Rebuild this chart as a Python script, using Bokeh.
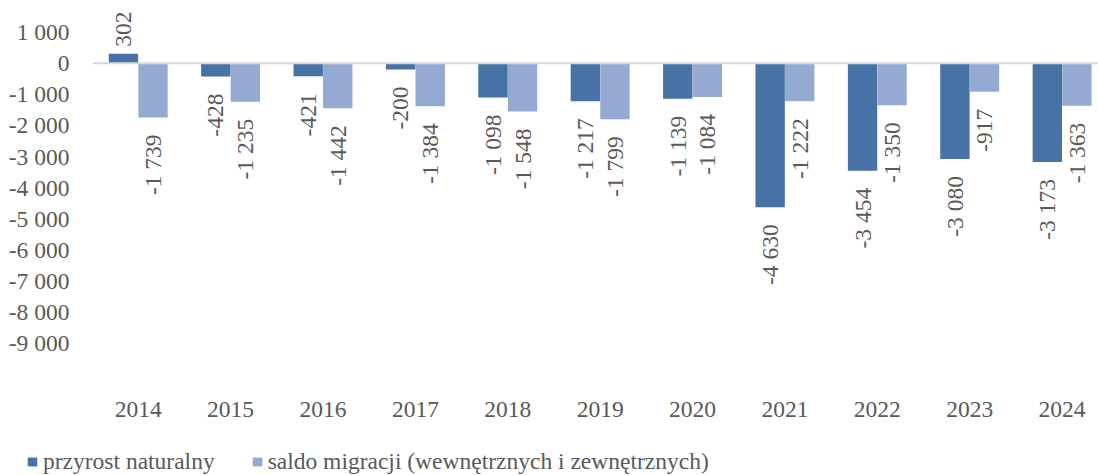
from bokeh.plotting import figure
from bokeh.models import ColumnDataSource, Range1d, FixedTicker, Span, Legend, LegendItem
from bokeh.layouts import column
from bokeh.embed import file_html
from bokeh.resources import INLINE
from bokeh.core.properties import value
import math

years = ["2014", "2015", "2016", "2017", "2018", "2019", "2020", "2021", "2022", "2023", "2024"]
przyrost = [302, -428, -421, -200, -1098, -1217, -1139, -4630, -3454, -3080, -3173]
saldo = [-1739, -1235, -1442, -1384, -1548, -1799, -1084, -1222, -1350, -917, -1363]
y_ticks = [1000, 0, -1000, -2000, -3000, -4000, -5000, -6000, -7000, -8000, -9000]
series_names = ["przyrost naturalny", "saldo migracji (wewnętrznych i zewnętrznych)"]

DARK = "#4672A6"
LIGHT = "#95AAD2"
TXT = "#595959"
FONT = "Liberation Serif"
FS = "23.5px"


def fmt(v):
    return f"{v:,}".replace(",", " ")


idx = list(range(len(years)))
off = 0.16
bw = 0.318

src1 = ColumnDataSource(dict(
    x=[i - off for i in idx], top=przyrost,
    lab=[fmt(v) for v in przyrost],
    align=["left" if v >= 0 else "right" for v in przyrost],
    yo=[-7 if v >= 0 else 17 for v in przyrost],
))
src2 = ColumnDataSource(dict(
    x=[i + off for i in idx], top=saldo,
    lab=[fmt(v) for v in saldo],
    align=["left" if v >= 0 else "right" for v in saldo],
    yo=[-7 if v >= 0 else 17 for v in saldo],
))

p = figure(width=1098, height=440, output_backend="svg", toolbar_location=None,
           x_range=Range1d(-0.495, 10.394), y_range=Range1d(-10000, 2016),
           min_border_left=92, min_border_right=0, min_border_top=0, min_border_bottom=66)
p.outline_line_color = None
p.grid.visible = False
p.background_fill_color = "white"
p.border_fill_color = "white"

p.vbar(x="x", top="top", bottom=0, width=bw, source=src1, fill_color=DARK, line_color=None)
p.vbar(x="x", top="top", bottom=0, width=bw, source=src2, fill_color=LIGHT, line_color=None)

p.add_layout(Span(location=0, dimension="width", line_color="#D9D9D9", line_width=2))

for s in (src1, src2):
    p.text(x="x", y="top", text="lab", source=s, angle=math.pi / 2,
           text_align="align", y_offset="yo", text_baseline="middle",
           text_font=value(FONT), text_font_size=FS, text_color=TXT)

p.yaxis.ticker = FixedTicker(ticks=y_ticks)
p.yaxis.major_label_overrides = {t: fmt(t) for t in y_ticks}
p.xaxis.ticker = FixedTicker(ticks=idx)
p.xaxis.major_label_overrides = {i: y for i, y in enumerate(years)}
for ax in (p.xaxis[0], p.yaxis[0]):
    ax.axis_line_color = None
    ax.major_tick_line_color = None
    ax.minor_tick_line_color = None
    ax.major_label_text_font = FONT
    ax.major_label_text_font_size = FS
    ax.major_label_text_color = TXT
p.yaxis.major_label_standoff = 17
p.xaxis.major_label_standoff = 21

# legend strip below the chart (its frame spans the full width; the bars lie outside its ranges)
pl = figure(width=1098, height=35, output_backend="svg", toolbar_location=None,
            x_range=Range1d(100, 101), y_range=Range1d(5000, 5001),
            x_axis_type=None, y_axis_type=None,
            min_border_left=0, min_border_right=0, min_border_top=0, min_border_bottom=0)
pl.outline_line_color = None
pl.grid.visible = False
pl.background_fill_color = "white"
pl.border_fill_color = "white"
try:
    pl.frame_align = False
    p.frame_align = False
except Exception:
    pass
lr1 = pl.vbar(x="x", top="top", bottom=0, width=bw, source=src1, fill_color=DARK, line_color=None)
lr2 = pl.vbar(x="x", top="top", bottom=0, width=bw, source=src2, fill_color=LIGHT, line_color=None)

legend = Legend(items=[LegendItem(label=series_names[0], renderers=[lr1]),
                       LegendItem(label=series_names[1], renderers=[lr2])],
                location=(26, 0), orientation="horizontal",
                label_text_font=FONT, label_text_font_size=FS, label_text_color=TXT,
                glyph_width=12, glyph_height=11, label_standoff=5, spacing=36,
                padding=0, margin=0, border_line_color=None, background_fill_alpha=0)
pl.add_layout(legend, "center")

layout = column(p, pl, spacing=0)
open("out.html", "w").write(file_html(layout, INLINE))
